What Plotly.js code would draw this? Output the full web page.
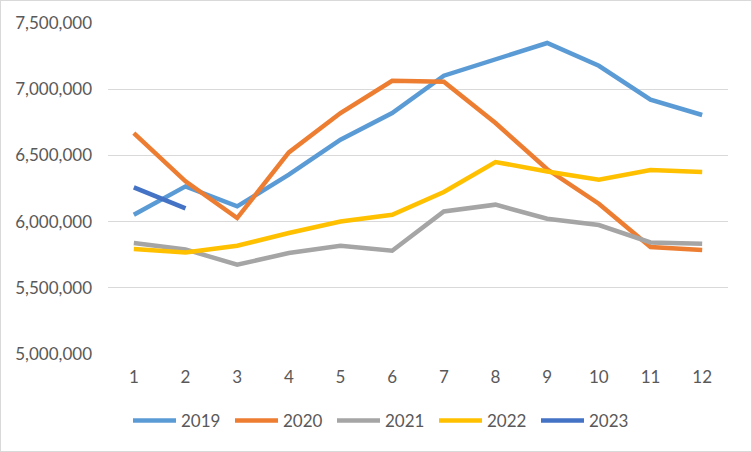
<!DOCTYPE html>
<html>
<head>
<meta charset="utf-8">
<script src="https://cdn.plot.ly/plotly-3.0.1.min.js"></script>
<style>
  html, body { margin: 0; padding: 0; background: #fff; }
  #wrap { width: 752px; height: 452px; box-sizing: border-box; border: 1.5px solid #D9D9D9; overflow: hidden; }
  #chart { width: 749px; height: 449px; }
</style>
</head>
<body>
<div id="wrap"><div id="chart"></div></div>
<script>
const months = ['1','2','3','4','5','6','7','8','9','10','11','12'];
const years = ['2019','2020','2021','2022','2023'];
const y2019 = [6052000, 6266000, 6115000, 6354000, 6619000, 6820000, 7102000, 7223000, 7349000, 7177000, 6921000, 6805000];
const y2020 = [6669000, 6304000, 6027000, 6523000, 6820000, 7064000, 7057000, 6745000, 6395000, 6135000, 5808000, 5785000];
const y2021 = [5838000, 5790000, 5674000, 5763000, 5818000, 5780000, 6077000, 6128000, 6022000, 5974000, 5843000, 5833000];
const y2022 = [5793000, 5766000, 5818000, 5914000, 6001000, 6052000, 6224000, 6450000, 6379000, 6316000, 6390000, 6375000];
const y2023 = [6258000, 6100000];
const colors = ['#5B9BD5', '#ED7D31', '#A5A5A5', '#FFC000', '#4472C4'];
const yTicks = [5000000, 5500000, 6000000, 6500000, 7000000, 7500000];

const series = [y2019, y2020, y2021, y2022, y2023];
const traces = series.map((vals, i) => ({
  type: 'scatter',
  mode: 'lines',
  name: years[i],
  x: months.slice(0, vals.length),
  y: vals,
  line: { color: colors[i], width: 4.5 },
  hoverinfo: 'skip'
}));

const font = { family: 'Lato, "Open Sans", sans-serif', size: 17, color: '#595959' };

const layout = {
  width: 749, height: 449,
  margin: { l: 107, r: 22, t: 22, b: 96 },
  paper_bgcolor: '#ffffff',
  plot_bgcolor: '#ffffff',
  font: font,
  showlegend: true,
  legend: {
    orientation: 'h',
    xref: 'container', yref: 'container',
    x: 382 / 749, xanchor: 'center',
    y: 1 - 420 / 449, yanchor: 'middle',
    itemwidth: 43,
    entrywidth: 44,
    entrywidthmode: 'pixels',
    font: font,
    traceorder: 'normal'
  },
  xaxis: {
    type: 'category',
    categoryarray: months,
    range: [-0.5, 11.5],
    showgrid: false,
    showline: false,
    zeroline: false,
    ticks: '',
    ticklabelstandoff: 11,
    tickfont: font,
    fixedrange: true
  },
  yaxis: {
    range: [5000000, 7500000],
    tickvals: yTicks,
    tickformat: ',d',
    showgrid: true,
    gridcolor: '#D9D9D9',
    gridwidth: 1.2,
    zeroline: false,
    showline: false,
    ticks: '',
    ticklabelstandoff: 15,
    tickfont: font,
    fixedrange: true
  }
};

Plotly.newPlot('chart', traces, layout, { displayModeBar: false, staticPlot: true });
</script>
</body>
</html>
